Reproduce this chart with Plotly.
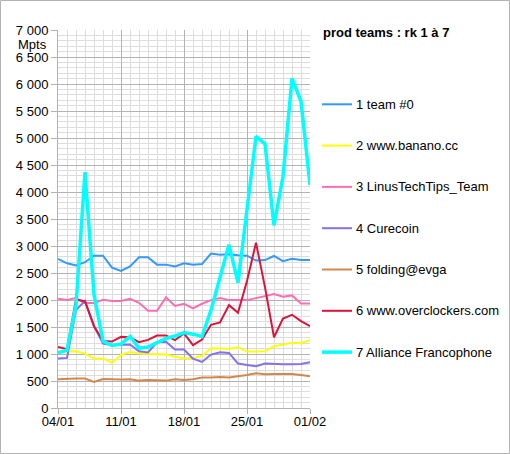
import plotly.graph_objects as go
import pandas as pd

dates = pd.date_range("2021-01-04", "2021-02-01", freq="D").strftime("%Y-%m-%d").tolist()
tick_labels = ["04/01", "11/01", "18/01", "25/01", "01/02"]
y_ticks = [0, 500, 1000, 1500, 2000, 2500, 3000, 3500, 4000, 4500, 5000, 5500, 6000, 6500, 7000]

names = ["1 team #0", "2 www.banano.cc", "3 LinusTechTips_Team", "4 Curecoin",
         "5 folding@evga", "6 www.overclockers.com", "7 Alliance Francophone"]

team0 = [2760, 2680, 2640, 2700, 2820, 2820, 2600, 2540, 2620, 2790, 2790, 2655, 2655, 2620, 2680,
         2655, 2665, 2860, 2840, 2848, 2830, 2820, 2730, 2740, 2815, 2720, 2765, 2740, 2740]
banano = [1045, 1055, 1052, 1008, 918, 918, 835, 982, 1035, 1010, 1000, 990, 990, 950, 918,
          928, 965, 1107, 1095, 1095, 1126, 1045, 1045, 1050, 1144, 1170, 1206, 1206, 1256]
ltt = [2022, 2000, 2035, 1945, 1945, 2005, 1980, 1980, 2022, 1948, 1800, 1800, 2048, 1890, 1928,
       1844, 1930, 1998, 2035, 1998, 1998, 1998, 2035, 2078, 2109, 2060, 2085, 1936, 1936]
curecoin = [916, 928, 1812, 1985, 1515, 1194, 1166, 1175, 1175, 1052, 1030, 1218, 1228, 1082, 1082,
            915, 853, 990, 1033, 1020, 822, 798, 773, 822, 810, 810, 810, 816, 847]
evga = [532, 544, 544, 544, 482, 538, 526, 526, 532, 507, 520, 507, 507, 532, 520,
        532, 563, 563, 575, 563, 581, 612, 643, 625, 631, 637, 631, 612, 588]
overclockers = [1132, 1090, 2010, 1973, 1515, 1243, 1230, 1317, 1310, 1218, 1262, 1342, 1342, 1256, 1380,
                1163, 1268, 1540, 1584, 1905, 1763, 2350, 3062, 2233, 1311, 1658, 1726, 1608, 1515]
alliance = [1020, 1070, 1900, 4370, 2100, 1240, 1160, 1185, 1325, 1108, 1130, 1215, 1287, 1333, 1398,
            1367, 1324, 1812, 2431, 3022, 2320, 3650, 5030, 4893, 3382, 4287, 6102, 5680, 4131]

series = [team0, banano, ltt, curecoin, evga, overclockers, alliance]
colors = ["#3399ff", "#ffff00", "#ff6fb0", "#8470f0", "#d2884a", "#dc143c", "#00ffff"]
widths = [2, 2, 2, 2, 2, 2, 3.5]

fig = go.Figure()
for i, (n, s, c, w) in enumerate(zip(names, series, colors, widths)):
    fig.add_trace(go.Scatter(x=dates, y=s, name=n, mode="lines", showlegend=False,
                             line=dict(color=c, width=w)))

font_family = "Liberation Sans, Arial, sans-serif"
W, H = 510, 454
L, R, T, B = 58, 200, 30, 46
pw, ph = W - L - R, H - T - B

def px(x):
    return (x - L) / pw

def py(y):
    return (H - B - y) / ph

annotations = [
    dict(text="<b>prod teams : rk 1 à 7</b>", x=px(321), y=py(33), xref="paper", yref="paper",
         xanchor="left", yanchor="middle", showarrow=False,
         font=dict(family=font_family, size=13, color="#000000")),
    dict(text="Mpts", x=px(32), y=py(45), xref="paper", yref="paper",
         xanchor="center", yanchor="middle", showarrow=False,
         font=dict(family=font_family, size=13, color="#000000")),
]
shapes = [
    dict(type="rect", xref="paper", yref="paper",
         x0=px(0.5), x1=px(509.5), y0=py(453.5), y1=py(0.5),
         line=dict(color="#b3b3b3", width=1), fillcolor="rgba(0,0,0,0)", layer="below"),
]

# legend drawn as line samples + text
leg_top, leg_step = 104.3, 41.3
for i, (n, c, w) in enumerate(zip(names, colors, widths)):
    yy = leg_top + i * leg_step
    shapes.append(dict(type="line", xref="paper", yref="paper",
                       x0=px(322), x1=px(352), y0=py(yy), y1=py(yy),
                       line=dict(color=c, width=w)))
    annotations.append(dict(text=n, x=px(354), y=py(yy), xref="paper", yref="paper",
                            xanchor="left", yanchor="middle", showarrow=False,
                            font=dict(family=font_family, size=13, color="#000000")))

fig.update_layout(
    width=W, height=H,
    margin=dict(l=L, r=R, t=T, b=B, pad=0),
    paper_bgcolor="white", plot_bgcolor="white",
    separators=", ",
    font=dict(family=font_family, size=13, color="#000000"),
    showlegend=False,
    xaxis=dict(
        type="date",
        range=[dates[0], dates[-1]],
        tickmode="array",
        tickvals=[dates[0], dates[7], dates[14], dates[21], dates[28]],
        ticktext=tick_labels,
        showgrid=True, gridcolor="#b3b3b3", gridwidth=1,
        minor=dict(dtick=86400000, tick0=dates[0], showgrid=True, gridcolor="#dddddd", gridwidth=1),
        showline=True, linecolor="#b3b3b3", linewidth=1,
        ticks="outside", ticklen=5, tickcolor="#b3b3b3",
        ticklabelstandoff=-4,
        tickfont=dict(size=13, color="#000000"),
        zeroline=False, fixedrange=True,
    ),
    yaxis=dict(
        range=[0, 7000],
        tickmode="array", tickvals=y_ticks,
        tickformat=",d",
        showgrid=True, gridcolor="#b3b3b3", gridwidth=1,
        minor=dict(dtick=100, tick0=0, showgrid=True, gridcolor="#dddddd", gridwidth=1),
        showline=True, linecolor="#b3b3b3", linewidth=1,
        ticks="outside", ticklen=6, tickcolor="#b3b3b3",
        ticklabelstandoff=0,
        tickfont=dict(size=13, color="#000000"),
        zeroline=False, fixedrange=True,
    ),
    annotations=annotations,
    shapes=shapes,
)

fig.write_html("out.html", config={"displayModeBar": False},
               post_script="document.body.style.margin='0';document.body.style.overflow='hidden';")
